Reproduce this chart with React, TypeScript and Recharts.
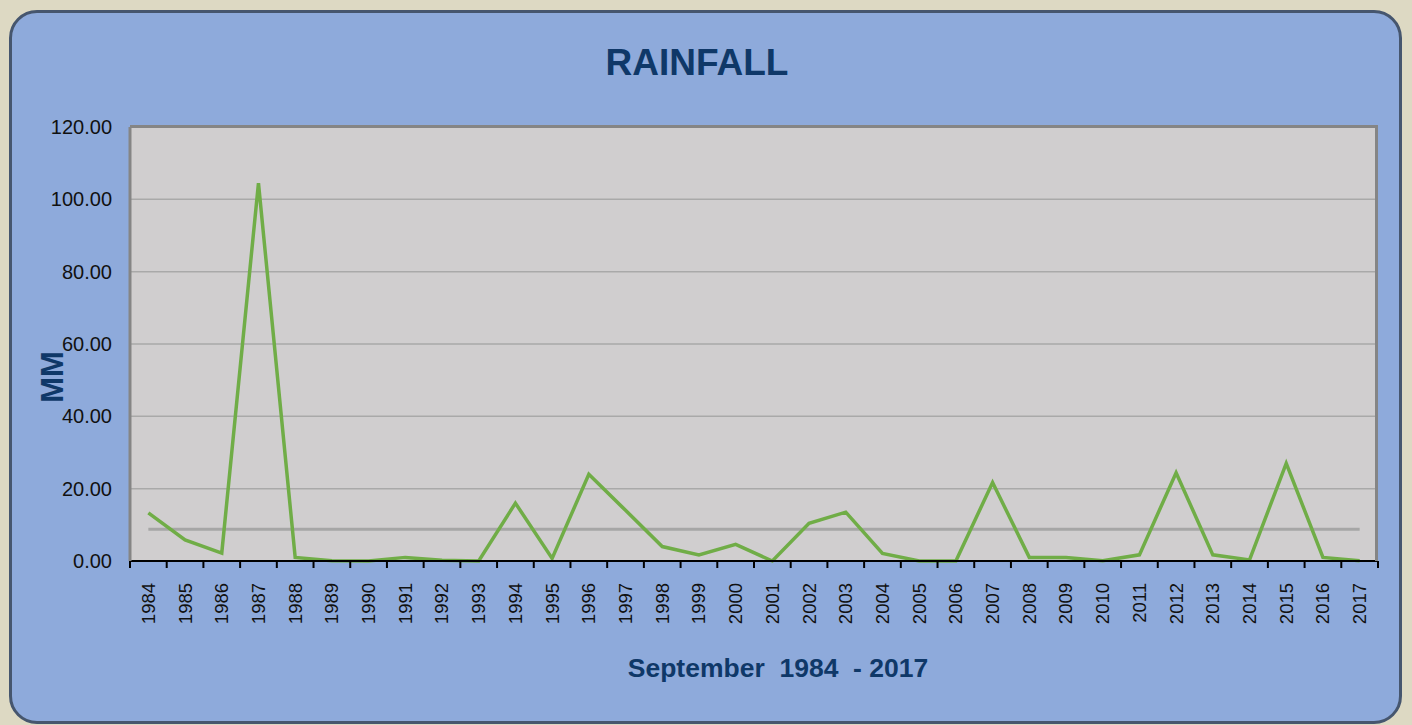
import * as React from "react";
import {
  LineChart,
  Line,
  XAxis,
  YAxis,
  CartesianGrid,
  ReferenceLine,
} from "recharts";

const years = [
  "1984", "1985", "1986", "1987", "1988", "1989", "1990", "1991", "1992",
  "1993", "1994", "1995", "1996", "1997", "1998", "1999", "2000", "2001",
  "2002", "2003", "2004", "2005", "2006", "2007", "2008", "2009", "2010",
  "2011", "2012", "2013", "2014", "2015", "2016", "2017",
];

const rainfall = [
  13.3, 5.8, 2.2, 104.5, 1.0, 0.1, 0.0, 1.0, 0.2, 0.0, 16.0, 0.7, 24.0, 14.0,
  4.0, 1.7, 4.6, 0.0, 10.4, 13.5, 2.1, 0.0, 0.0, 21.7, 1.0, 1.0, 0.1, 1.7,
  24.4, 1.7, 0.3, 27.0, 1.0, 0.1,
];

const averageRainfall = 8.8;

const yTicks = [0, 20, 40, 60, 80, 100, 120];

const data = years.map((year, i) => ({ year, mm: rainfall[i] }));

// plot area box, in page pixels
const PLOT_LEFT = 130;
const PLOT_TOP = 127;
const PLOT_RIGHT = 1378;
const PLOT_BOTTOM = 561;
const STEP = (PLOT_RIGHT - PLOT_LEFT) / years.length;

const NAVY = "#0f3868";
const FONT = "'Liberation Sans', Arial, sans-serif";

const YearTick = (props: any) => {
  const { x, payload, index } = props;
  const last = index === years.length - 1;
  return (
    <g>
      <line
        x1={x - STEP / 2}
        x2={x - STEP / 2}
        y1={PLOT_BOTTOM}
        y2={PLOT_BOTTOM + 7}
        stroke="#000"
        strokeWidth={2}
      />
      {last && (
        <line
          x1={x + STEP / 2}
          x2={x + STEP / 2}
          y1={PLOT_BOTTOM}
          y2={PLOT_BOTTOM + 7}
          stroke="#000"
          strokeWidth={2}
        />
      )}
      <g transform={`translate(${x},${PLOT_BOTTOM + 22})`}>
        <text
          x={0}
          y={0}
          dy="0.35em"
          textAnchor="end"
          transform="rotate(-90)"
          fill="#111"
          fontSize={18.5}
          fontFamily={FONT}
        >
          {payload?.value}
        </text>
      </g>
    </g>
  );
};

const App = () => {
  return (
    <div
      style={{
        position: "absolute",
        left: 0,
        top: 0,
        width: 1412,
        height: 725,
        background: "#ddd9c3",
        overflow: "hidden",
        fontFamily: FONT,
      }}
    >
      <div
        style={{
          position: "absolute",
          left: 9,
          top: 10,
          width: 1387,
          height: 708,
          border: "3px solid #46566e",
          borderRadius: 28,
          background: "#8eaadb",
        }}
      />

      <div
        style={{
          position: "absolute",
          left: 0,
          width: 1394,
          top: 42,
          textAlign: "center",
          fontSize: 37,
          fontWeight: "bold",
          color: NAVY,
        }}
      >
        RAINFALL
      </div>

      <div
        style={{
          position: "absolute",
          left: 0,
          width: 1556,
          top: 653,
          textAlign: "center",
          fontSize: 26.5,
          fontWeight: "bold",
          color: NAVY,
          whiteSpace: "pre",
        }}
      >
        {"September  1984  - 2017"}
      </div>

      <div
        style={{
          position: "absolute",
          left: 52,
          top: 377,
          transform: "translate(-50%, -50%) rotate(-90deg)",
          fontSize: 31,
          fontWeight: "bold",
          color: NAVY,
          lineHeight: 1,
        }}
      >
        MM
      </div>

      <div style={{ position: "absolute", left: 0, top: 0 }}>
        <LineChart
          width={1412}
          height={725}
          data={data}
          margin={{
            top: PLOT_TOP,
            left: PLOT_LEFT - 80,
            right: 1412 - PLOT_RIGHT,
            bottom: 725 - PLOT_BOTTOM - 60,
          }}
        >
          <CartesianGrid
            vertical={false}
            fill="#d0cecf"
            stroke="#a9a9a9"
            strokeWidth={1.5}
          />
          <XAxis
            dataKey="year"
            height={60}
            interval={0}
            padding={{ left: STEP / 2, right: STEP / 2 }}
            axisLine={{ stroke: "#000", strokeWidth: 2 }}
            tickLine={false}
            tick={<YearTick />}
          />
          <YAxis
            width={80}
            domain={[0, 120]}
            ticks={yTicks}
            tickFormatter={(v: number) => v.toFixed(2)}
            axisLine={{ stroke: "#858585", strokeWidth: 3 }}
            tickLine={false}
            tickMargin={12}
            tick={{ fill: "#111", fontSize: 20, fontFamily: FONT }}
          />
          <ReferenceLine
            segment={[
              { x: years[0], y: averageRainfall },
              { x: years[years.length - 1], y: averageRainfall },
            ]}
            stroke="#a6a6a6"
            strokeWidth={3}
            ifOverflow="visible"
          />
          <Line
            type="linear"
            dataKey="mm"
            stroke="#70ad47"
            strokeWidth={3.5}
            dot={false}
            isAnimationActive={false}
          />
        </LineChart>
      </div>

      <div
        style={{
          position: "absolute",
          left: PLOT_LEFT,
          top: PLOT_TOP - 2,
          width: PLOT_RIGHT - PLOT_LEFT,
          height: PLOT_BOTTOM - PLOT_TOP + 2,
          borderTop: "3px solid #858585",
          borderRight: "3px solid #858585",
          boxSizing: "border-box",
          pointerEvents: "none",
        }}
      />
    </div>
  );
};

export default App;
